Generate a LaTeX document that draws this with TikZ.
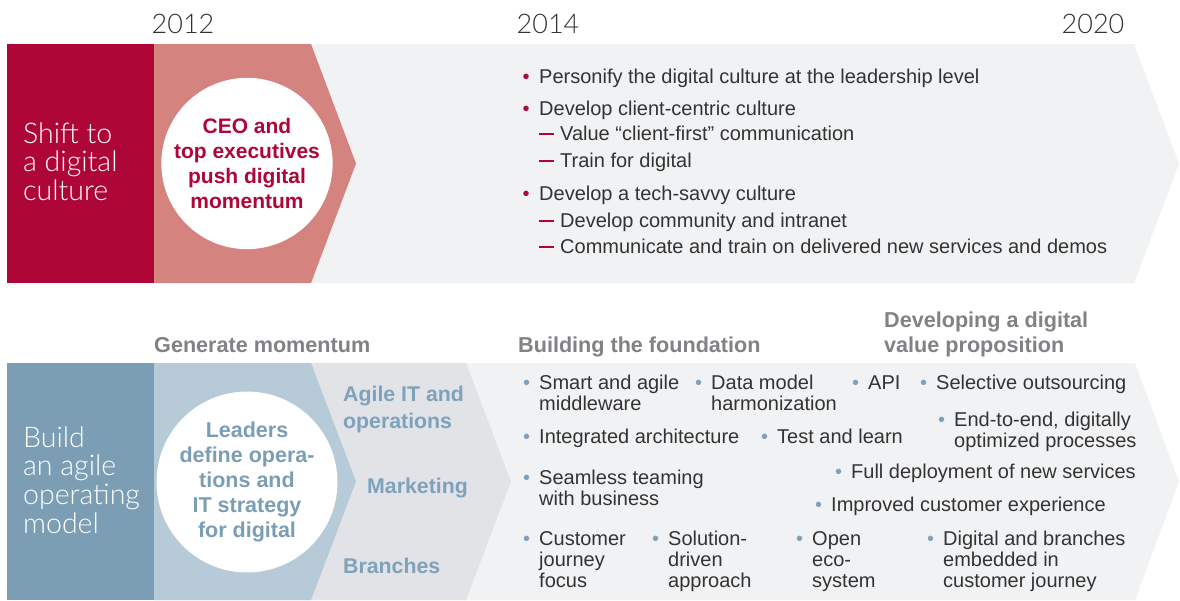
\documentclass[tikz,border=0pt]{standalone}
\usepackage{fontspec}
\setmainfont{Liberation Sans}
\newfontfamily\lightfont{Lato Light}
\definecolor{crim}{HTML}{AF0638}
\definecolor{rosepink}{HTML}{D4837F}
\definecolor{paleband}{HTML}{F1F2F4}
\definecolor{steel}{HTML}{7B9EB5}
\definecolor{iceblue}{HTML}{B6CAD7}
\definecolor{midgray}{HTML}{E1E3E7}
\definecolor{chevtxt}{HTML}{7FA2BC}
\definecolor{headgray}{HTML}{808285}
\definecolor{bodytext}{HTML}{333333}
% left-aligned lines whose baseline is that of the first line
\newcommand\stack[1]{\vtop{\let\\\cr\halign{##\hfil\cr#1\crcr}}}
\newcommand\bdot[2]{\llap{\textcolor{#1}{\textbullet}\hspace{#2}}}
\tikzset{
  txt/.style={anchor=base west, inner sep=0pt, text=bodytext,
    font=\fontsize{20}{21.3}\selectfont},
  side/.style={anchor=base west, inner sep=0pt, text=white,
    font=\lightfont\fontsize{28.5}{28.9}\selectfont},
  year/.style={anchor=base, inner sep=0pt, text=bodytext,
    font=\lightfont\fontsize{27}{27}\selectfont},
  head/.style={anchor=base west, inner sep=0pt, text=headgray,
    font=\bfseries\fontsize{21.6}{25}\selectfont},
  chev/.style={anchor=base west, inner sep=0pt, text=chevtxt,
    font=\bfseries\fontsize{21.3}{27}\selectfont},
  disc/.style={circle, fill=white, minimum size=162pt, inner sep=0pt,
    align=center},
  dashbar/.style={draw=crim, line width=1.9pt},
}
\begin{document}
\begin{tikzpicture}[x=1pt,y=-1pt]
\useasboundingbox (0,0) rectangle (1180,600);
\fill[white] (0,0) rectangle (1180,600);

% years
\node[year] (y12) at (183,33) {2012};
\node[year] (y14) at (548,33) {2014};
\node[year] (y20) at (1093,33) {2020};

% upper band: digital culture
\fill[paleband] (154,44) -- (1134,44) -- (1179,163.5) -- (1134,283) -- (154,283) -- cycle;
\fill[rosepink] (154,44) -- (311,44) -- (356,163.5) -- (311,283) -- (154,283) -- cycle;
\fill[crim] (7,44) rectangle (154,283);
\node[side] (shift) at (23,143) {\stack{Shift to\\a digital\\culture}};
\node[disc, text=crim, font=\bfseries\fontsize{21}{25}\selectfont] (ceo) at (247,163.5)
  {CEO and\\top executives\\push digital\\momentum};

\node[txt] (p1) at (539,83) {\bdot{crim}{9.5pt}Personify the digital culture at the leadership level};
\node[txt] (p2) at (539,115) {\bdot{crim}{9.5pt}Develop client-centric culture};
\node[txt] (p21) at (560,140) {Value “client-first” communication};
\node[txt] (p22) at (560,167) {Train for digital};
\node[txt] (p3) at (539,200) {\bdot{crim}{9.5pt}Develop a tech-savvy culture};
\node[txt] (p31) at (560,227) {Develop community and intranet};
\node[txt] (p32) at (560,253) {Communicate and train on delivered new services and demos};
% sub-item dashes
\foreach \s in {p21,p22,p31,p32}
  \draw[dashbar] ([xshift=-21pt,yshift=5.7pt]\s.base west) -- ++(15,0);

% lower band: agile operating model
\node[head] (h1) at (154,352) {Generate momentum};
\node[head] (h2) at (518,352) {Building the foundation};
\node[head] (h3) at (884,327) {\stack{Developing a digital\\value proposition}};

\fill[paleband] (154,363) -- (1135,363) -- (1179,481.5) -- (1135,600) -- (154,600) -- cycle;
\fill[midgray] (154,363) -- (466,363) -- (511,481.5) -- (466,600) -- (154,600) -- cycle;
\fill[iceblue] (154,363) -- (311,363) -- (356,481.5) -- (311,600) -- (154,600) -- cycle;
\fill[steel] (7,363) rectangle (154,600);
\node[side] (build) at (23,447) {\stack{Build\\an agile\\operating\\model}};
\node[disc, text=steel, font=\bfseries\fontsize{21.5}{25}\selectfont] (lead) at (247,482)
  {Leaders\\define opera-\\tions and\\IT strategy\\for digital};

\node[chev] (agile) at (343,401) {\stack{Agile IT and\\operations}};
\node[chev] (mkt) at (367,493) {Marketing};
\node[chev] (br) at (343,573) {Branches};

\node[txt] (b1) at (539,389) {\stack{\bdot{chevtxt}{9pt}Smart and agile\\middleware}};
\node[txt] (b2) at (711,389) {\stack{\bdot{chevtxt}{9pt}Data model\\harmonization}};
\node[txt] (b3) at (868,389) {\bdot{chevtxt}{9pt}API};
\node[txt] (b4) at (936,389) {\bdot{chevtxt}{9pt}Selective outsourcing};
\node[txt] (b5) at (954,426) {\stack{\bdot{chevtxt}{9pt}End-to-end, digitally\\optimized processes}};
\node[txt] (b6) at (539,443) {\bdot{chevtxt}{9pt}Integrated architecture};
\node[txt] (b7) at (777,443) {\bdot{chevtxt}{9pt}Test and learn};
\node[txt] (b8) at (539,484) {\stack{\bdot{chevtxt}{9pt}Seamless teaming\\with business}};
\node[txt] (b9) at (851,478) {\bdot{chevtxt}{9pt}Full deployment of new services};
\node[txt] (b10) at (831,511) {\bdot{chevtxt}{9pt}Improved customer experience};
\node[txt] (b11) at (539,545) {\stack{\bdot{chevtxt}{9pt}Customer\\journey\\focus}};
\node[txt] (b12) at (668,545) {\stack{\bdot{chevtxt}{9pt}Solution-\\driven\\approach}};
\node[txt] (b13) at (812,545) {\stack{\bdot{chevtxt}{9pt}Open\\eco-\\system}};
\node[txt] (b14) at (943,545) {\stack{\bdot{chevtxt}{9pt}Digital and branches\\embedded in\\customer journey}};
\end{tikzpicture}
\end{document}
